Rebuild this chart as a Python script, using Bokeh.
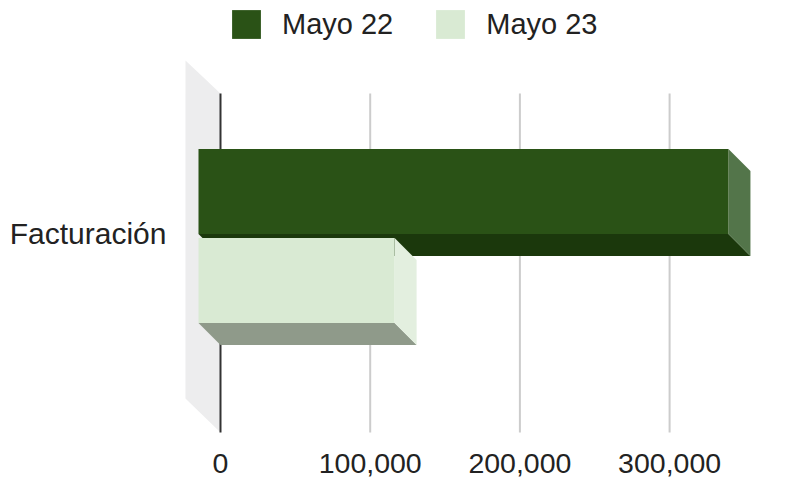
from bokeh.embed import file_html
from bokeh.models import (FixedTicker, Legend, LegendItem, LinearAxis, NumeralTickFormatter,
                          Range1d)
from bokeh.plotting import figure
from bokeh.resources import INLINE

categories = ["Facturación"]
series_names = ["Mayo 22", "Mayo 23"]
series_values = [354000, 131000]
tick_values = [0, 100000, 200000, 300000]

front_colors = ["#2a5216", "#d9ead3"]
bottom_colors = ["#1b380c", "#8f9a8a"]
side_colors = ["#53754a", "#e3efdf"]

FONT = "Liberation Sans"
TEXT = "#222222"
DX = 14700      # depth of the 3D box along the value axis
DY = 0.259      # depth of the 3D box along the band axis
BAR = 1.0
GAP = 0.047
Y_TOP, Y_BOTTOM = 2.771, -2.853
X_LEFT, X_RIGHT = -30060, 360721
GRID_TOP, GRID_BOTTOM = 1.676, -2.312
AXIS_Y = -2.406
LABEL_Y = 0.024

p = figure(width=811, height=478, output_backend="svg", toolbar_location=None,
           x_range=Range1d(X_LEFT, X_RIGHT), y_range=Range1d(Y_BOTTOM, Y_TOP),
           x_axis_location=None, y_axis_location=None,
           min_border_left=175, min_border_right=51, min_border_top=0, min_border_bottom=0)
p.outline_line_color = None
p.grid.visible = False

# back wall
p.patch([-23400, 0, 0, -23400],
        [GRID_TOP + 0.388, GRID_TOP, GRID_BOTTOM, GRID_BOTTOM + 0.4],
        fill_color="#ededee", line_color=None)

# grid and zero line
grid_x = tick_values[1:]
p.segment(grid_x, [GRID_BOTTOM] * len(grid_x), grid_x, [GRID_TOP] * len(grid_x),
          line_color="#cccccc", line_width=2)
p.segment([0], [GRID_BOTTOM], [0], [GRID_TOP], line_color="#333333", line_width=2)

# 3D bars
tops = [BAR + GAP / 2, -GAP / 2]
fronts = []
for val, top, fc, bc, sc in zip(series_values, tops, front_colors, bottom_colors, side_colors):
    left = -DX
    right = val - DX
    bot = top - BAR
    p.patch([left, right, val, 0],
            [bot, bot, bot - DY, bot - DY], fill_color=bc, line_color=None)
    p.patch([right, val, val, right],
            [top, top - DY, bot - DY, bot], fill_color=sc, line_color=None)
    fronts.append(p.patch([left, right, right, left], [top, top, bot, bot],
                          fill_color=fc, line_color=None))

# axes
xaxis = LinearAxis(ticker=FixedTicker(ticks=tick_values),
                   formatter=NumeralTickFormatter(format="0,0"),
                   fixed_location=AXIS_Y)
xaxis.axis_line_color = None
xaxis.major_tick_line_color = None
xaxis.minor_tick_line_color = None
xaxis.major_tick_out = 0
xaxis.major_label_standoff = 13
xaxis.major_label_text_font = FONT
xaxis.major_label_text_font_size = "28.5px"
xaxis.major_label_text_color = TEXT
p.add_layout(xaxis, "below")

yaxis = LinearAxis(ticker=FixedTicker(ticks=[LABEL_Y]),
                   major_label_overrides={LABEL_Y: categories[0]})
yaxis.axis_line_color = None
yaxis.major_tick_line_color = None
yaxis.minor_tick_line_color = None
yaxis.major_tick_out = 0
yaxis.major_label_standoff = 9
yaxis.major_label_text_font = FONT
yaxis.major_label_text_font_size = "30px"
yaxis.major_label_text_color = TEXT
p.add_layout(yaxis, "left")

legend = Legend(items=[LegendItem(label=n, renderers=[r]) for n, r in zip(series_names, fronts)],
                orientation="horizontal", location=(53, 436), padding=0, margin=0,
                spacing=39, glyph_width=36, glyph_height=36, label_standoff=18,
                label_text_font=FONT, label_text_font_size="29px", label_text_color=TEXT,
                background_fill_alpha=0, border_line_color=None)
p.add_layout(legend)

open("out.html", "w").write(file_html(p, INLINE))
